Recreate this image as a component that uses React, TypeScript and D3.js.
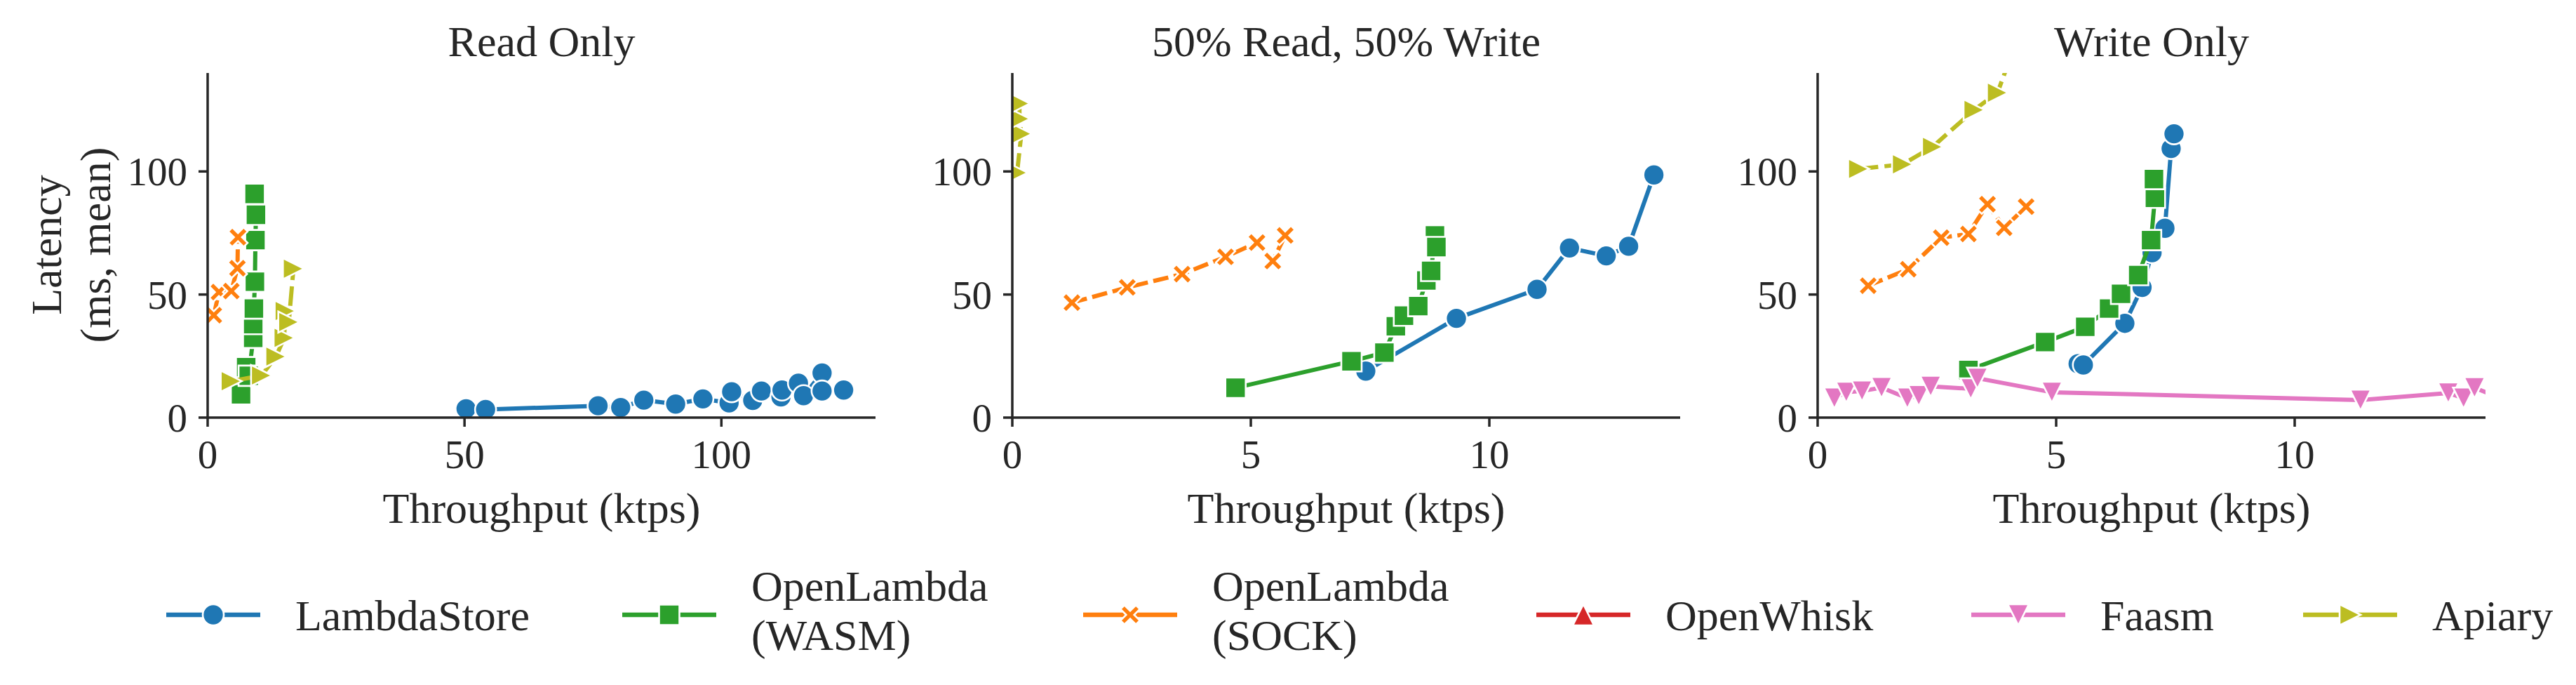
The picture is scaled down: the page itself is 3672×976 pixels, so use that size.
import React from 'react';
import * as d3 from 'd3';

// ---- data (throughput ktps, mean latency ms) ----
const systemNames = ['LambdaStore', 'OpenLambda (WASM)', 'OpenLambda (SOCK)', 'OpenWhisk', 'Faasm', 'Apiary'];
const legendLabels = [['LambdaStore'], ['OpenLambda', '(WASM)'], ['OpenLambda', '(SOCK)'], ['OpenWhisk'], ['Faasm'], ['Apiary']];
const panelTitles = ['Read Only', '50% Read, 50% Write', 'Write Only'];
const yTicks = [0, 50, 100];
const readXTicks = [0, 50, 100];
const mixedXTicks = [0, 5, 10];

type Pt = [number, number];

const readLambdaStore: Pt[] = [
  [50.3, 3.6], [54.1, 3.3], [76.0, 4.8], [80.4, 4.1], [84.9, 7.1], [91.1, 5.5], [96.4, 7.6],
  [101.5, 6.0], [102.0, 10.5], [106.1, 7.0], [107.8, 10.8], [111.6, 8.4], [111.8, 11.2],
  [115.0, 14.0], [116.0, 8.9], [119.6, 18.1], [119.6, 10.8], [123.8, 11.2],
];
const readWasm: Pt[] = [
  [6.5, 9.5], [7.5, 20.5], [8.0, 17.0], [8.87, 32.4], [8.87, 38.0], [9.0, 44.3], [9.2, 55.2],
  [9.3, 72.1], [9.4, 82.4], [9.14, 90.9],
];
const readSock: Pt[] = [[1.2, 41.6], [2.2, 51.0], [4.6, 51.4], [5.8, 60.7], [5.9, 73.3]];
const readApiary: Pt[] = [[4.6, 14.8], [10.5, 17.1], [13.3, 24.8], [14.9, 32.4], [15.1, 43.3], [15.8, 38.8], [16.7, 60.5]];

const mixedLambdaStore: Pt[] = [[7.41, 18.9], [9.31, 40.3], [11.0, 52.1], [11.68, 68.9], [12.45, 65.7], [12.92, 69.6], [13.45, 98.6]];
const mixedWasm: Pt[] = [
  [4.68, 12.1], [7.11, 22.9], [7.8, 26.4], [8.04, 37.1], [8.21, 41.4], [8.51, 45.3], [8.68, 55.7],
  [8.78, 59.6], [8.86, 74.0], [8.89, 69.3],
];
const mixedSock: Pt[] = [[1.25, 46.7], [2.41, 52.9], [3.56, 58.3], [4.47, 65.3], [5.13, 71.1], [5.46, 63.6], [5.72, 74.0]];
const mixedApiary: Pt[] = [[0.1, 99.5], [0.19, 115.3], [0.15, 121.4], [0.15, 127.6]];

const writeLambdaStore: Pt[] = [[5.46, 21.9], [5.57, 21.4], [6.44, 38.3], [6.8, 52.9], [7.01, 67.0], [7.28, 76.9], [7.41, 109.3], [7.47, 115.3]];
const writeWasm: Pt[] = [
  [3.16, 19.3], [4.77, 30.7], [5.61, 36.9], [6.11, 44.3], [6.36, 50.3], [6.72, 57.9], [6.99, 72.1],
  [7.07, 89.3], [7.05, 96.9],
];
const writeSock: Pt[] = [[1.06, 53.6], [1.9, 60.3], [2.59, 73.1], [3.16, 74.6], [3.56, 86.7], [3.91, 77.1], [4.37, 85.7]];
const writeFaasm: Pt[] = [
  [0.35, 7.9], [0.6, 10.3], [0.93, 10.8], [1.34, 12.2], [1.88, 7.9], [2.12, 8.9], [2.37, 12.7],
  [3.21, 11.7], [3.35, 16.0], [4.91, 10.3], [11.38, 7.1], [13.22, 10.0], [13.54, 7.9], [13.77, 12.1], [14.3, 8.0],
];
const writeApiary: Pt[] = [[0.86, 101.0], [1.78, 102.9], [2.41, 110.0], [3.28, 125.0], [3.77, 132.0], [4.4, 165.0]];

// ---- styling ----
const colors = ['#1f77b4', '#2ca02c', '#ff7f0e', '#d62728', '#e377c2', '#bcbd22'];
const dashes = [null, null, '22 8', '16 6 8 6', null, '28 9'];

const xCross = (() => {
  const w = 4, L = 15.5;
  const pts: Pt[] = [[w, w], [w, L], [-w, L], [-w, w], [-L, w], [-L, -w], [-w, -w], [-w, -L], [w, -L], [w, -w], [L, -w], [L, w]];
  const c = Math.SQRT1_2;
  return 'M' + pts.map(([x, y]) => `${(x - y) * c},${(x + y) * c}`).join('L') + 'Z';
})();

const markerPaths = [
  d3.symbol(d3.symbolCircle, Math.PI * 15 * 15)() as string,
  d3.symbol(d3.symbolSquare, 29 * 29)() as string,
  xCross,
  'M0,-15L15,15L-15,15Z',
  'M0,15L15,-15L-15,-15Z',
  'M15,0L-15,-15L-15,15Z',
];

const panels = [
  { title: panelTitles[0], xMax: 130, xTicks: readXTicks, series: [readLambdaStore, readWasm, readSock, [], [], readApiary] },
  { title: panelTitles[1], xMax: 14, xTicks: mixedXTicks, series: [mixedLambdaStore, mixedWasm, mixedSock, [], [], mixedApiary] },
  { title: panelTitles[2], xMax: 14, xTicks: mixedXTicks, series: [writeLambdaStore, writeWasm, writeSock, [], writeFaasm, writeApiary] },
];

const W = 3672, H = 976;
const lefts = [296, 1443, 2591];
const pw = 952, top = 104, bottom = 595;
const ink = '#262626';
const font = '"Liberation Serif", serif';

const Marker = ({ i, x, y }: { i: number; x: number; y: number }) => (
  <path d={markerPaths[i]} transform={`translate(${x},${y})`} fill={colors[i]} stroke="#fff" strokeWidth={2.6} />
);

const Panel = ({ p, idx }: { p: typeof panels[number]; idx: number }) => {
  const left = lefts[idx];
  const x = d3.scaleLinear().domain([0, p.xMax]).range([left, left + pw]);
  const y = d3.scaleLinear().domain([0, 140]).range([bottom, top]);
  const line = d3.line<Pt>().x(d => x(d[0])).y(d => y(d[1]));
  const clip = `clip-${idx}`;
  return (
    <g>
      <defs>
        <clipPath id={clip}>
          <rect x={left} y={top} width={pw} height={bottom - top} />
        </clipPath>
      </defs>
      <g clipPath={`url(#${clip})`}>
        {p.series.map((s, i) => s.length === 0 ? null : (
          <g key={i}>
            <path d={line(s as Pt[]) || ''} fill="none" stroke={colors[i]} strokeWidth={6}
              strokeLinejoin="round" strokeDasharray={dashes[i] || undefined} />
            {(s as Pt[]).map((d, j) => <Marker key={j} i={i} x={x(d[0])} y={y(d[1])} />)}
          </g>
        ))}
      </g>
      {/* axes */}
      <line x1={left} x2={left} y1={top} y2={bottom + 1.75} stroke={ink} strokeWidth={3.5} />
      <line x1={left - 1.75} x2={left + pw} y1={bottom} y2={bottom} stroke={ink} strokeWidth={3.5} />
      {yTicks.map(t => (
        <g key={t}>
          <line x1={left - 13} x2={left} y1={y(t)} y2={y(t)} stroke={ink} strokeWidth={3.5} />
          <text x={left - 29} y={y(t)} dy="0.35em" textAnchor="end" fontSize={57} fill={ink}>{t}</text>
        </g>
      ))}
      {p.xTicks.map(t => (
        <g key={t}>
          <line x1={x(t)} x2={x(t)} y1={bottom} y2={bottom + 13} stroke={ink} strokeWidth={3.5} />
          <text x={x(t)} y={667} textAnchor="middle" fontSize={57} fill={ink}>{t}</text>
        </g>
      ))}
      <text x={left + pw / 2} y={80} textAnchor="middle" fontSize={62} fill={ink}>{p.title}</text>
      <text x={left + pw / 2} y={745} textAnchor="middle" fontSize={62} fill={ink}>Throughput (ktps)</text>
    </g>
  );
};

const legendX = [237, 887, 1544, 2190, 2810, 3283];

export default function App() {
  const cy = 876;
  return (
    <svg width={W} height={H} style={{ position: 'absolute', left: 0, top: 0, background: '#fff' }} fontFamily={font}>
      <rect width={W} height={H} fill="#fff" />
      {panels.map((p, i) => <Panel key={i} p={p} idx={i} />)}
      <g transform={`translate(87,349) rotate(-90)`}>
        <text textAnchor="middle" fontSize={62} fill={ink}>Latency</text>
        <text y={70} textAnchor="middle" fontSize={62} fill={ink}>(ms, mean)</text>
      </g>
      {systemNames.map((name, i) => {
        const x0 = legendX[i];
        const lines = legendLabels[i];
        return (
          <g key={name}>
            <line x1={x0} x2={x0 + 134} y1={cy} y2={cy} stroke={colors[i]} strokeWidth={6.5} />
            <Marker i={i} x={x0 + 67} y={cy} />
            {lines.length === 1 ? (
              <text x={x0 + 184} y={cy + 22} fontSize={62} fill={ink}>{lines[0]}</text>
            ) : (
              <text x={x0 + 184} y={cy - 20} fontSize={62} fill={ink}>
                <tspan x={x0 + 184}>{lines[0]}</tspan>
                <tspan x={x0 + 184} dy={70}>{lines[1]}</tspan>
              </text>
            )}
          </g>
        );
      })}
    </svg>
  );
}
